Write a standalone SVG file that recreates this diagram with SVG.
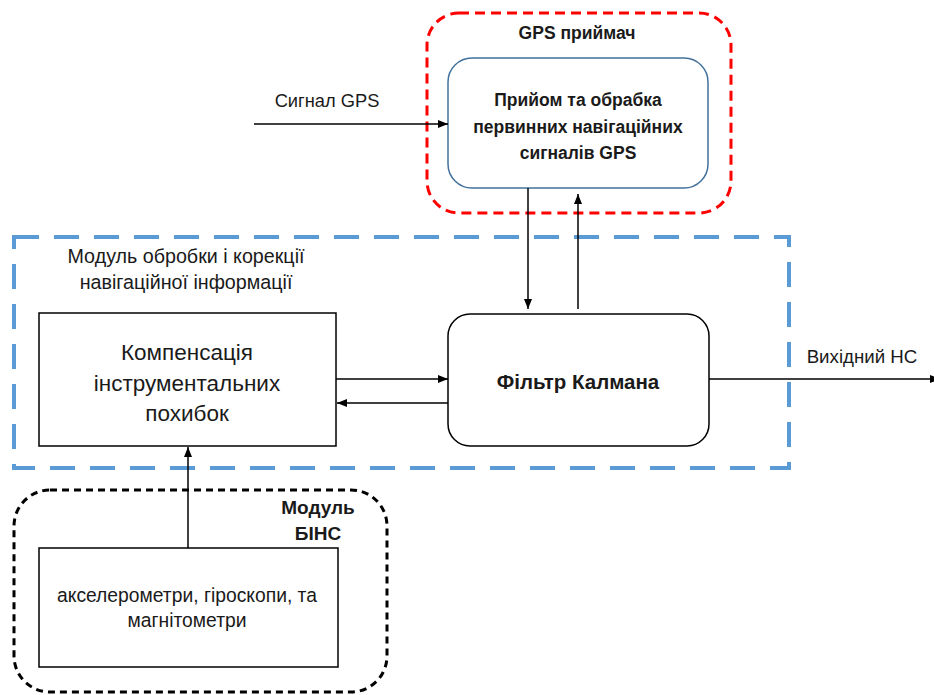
<svg xmlns="http://www.w3.org/2000/svg" width="934" height="695" viewBox="0 0 934 695">
<defs>
<marker id="ah" viewBox="0 0 10 10" refX="10" refY="5" markerWidth="10" markerHeight="10" markerUnits="userSpaceOnUse" orient="auto">
<path d="M0,1 L10,5 L0,9 z" fill="#000"/>
</marker>
<style>
.reg{font-family:"Liberation Sans",Arial,sans-serif;fill:#1a1a1a;text-anchor:middle}
.bold{font-family:"Liberation Sans",Arial,sans-serif;font-weight:bold;fill:#1a1a1a;text-anchor:middle}
.box{fill:#fff;stroke:#000;stroke-width:1.5}
.conn{stroke:#000;stroke-width:1.5;fill:none}
</style>
</defs>
<rect width="934" height="695" fill="#fff"/>

<g id="gps-receiver">
<rect x="427" y="13" width="304" height="200" rx="32" fill="none" stroke="#ff0000" stroke-width="3" stroke-dasharray="10 6"/>
<text class="bold" x="577" y="39" font-size="17.5">GPS приймач</text>
</g>

<g id="processing-module">
<rect x="14" y="237" width="775" height="231" fill="none" stroke="#5b9bd5" stroke-width="4" stroke-dasharray="25 15"/>
<text class="reg" x="186" y="263" font-size="19.7">Модуль обробки і корекції</text>
<text class="reg" x="186" y="289" font-size="19.7">навігаційної інформації</text>
</g>

<g id="bins-module">
<rect x="14" y="490" width="373" height="202" rx="36" fill="none" stroke="#000" stroke-width="3" stroke-dasharray="7 5"/>
<text class="bold" x="318" y="514" font-size="19">Модуль</text>
<text class="bold" x="318" y="540" font-size="19">БІНС</text>
</g>

<g id="gps-processing">
<rect x="448" y="58" width="260" height="130" rx="24" fill="#fff" stroke="#41719c" stroke-width="1.5"/>
<text class="bold" x="578" y="106" font-size="17.5">Прийом та обрабка</text>
<text class="bold" x="578" y="133" font-size="17.5">первинних навігаційних</text>
<text class="bold" x="578" y="159" font-size="17.5">сигналів GPS</text>
</g>

<g id="kalman-filter">
<rect x="448" y="314" width="261" height="132" rx="22" class="box"/>
<text class="bold" x="578" y="389" font-size="20.5">Фільтр Калмана</text>
</g>

<g id="compensation">
<rect x="39" y="313" width="297" height="133" class="box"/>
<text class="reg" x="187" y="360" font-size="22.5">Компенсація</text>
<text class="reg" x="187" y="391" font-size="22.5">інструментальних</text>
<text class="reg" x="187" y="421" font-size="22.5">похибок</text>
</g>

<g id="sensors">
<rect x="39" y="548" width="299" height="119" class="box"/>
<text class="reg" x="187" y="602" font-size="19.3">акселерометри, гіроскопи, та</text>
<text class="reg" x="187" y="627" font-size="19.3">магнітометри</text>
</g>

<g id="connectors">
<line class="conn" x1="254" y1="124" x2="448" y2="124" marker-end="url(#ah)"/>
<text class="reg" x="327" y="107" font-size="18.3">Сигнал GPS</text>
<line class="conn" x1="528" y1="188" x2="528" y2="309" marker-end="url(#ah)"/>
<line class="conn" x1="578" y1="309" x2="578" y2="194" marker-end="url(#ah)"/>
<line class="conn" x1="336" y1="379" x2="448" y2="379" marker-end="url(#ah)"/>
<line class="conn" x1="448" y1="403" x2="337" y2="403" marker-end="url(#ah)"/>
<line class="conn" x1="188" y1="548" x2="188" y2="447" marker-end="url(#ah)"/>
<line class="conn" x1="709" y1="379" x2="940" y2="379" marker-end="url(#ah)"/>
<text class="reg" x="862" y="363" font-size="18.7">Вихідний НС</text>
</g>
</svg>
